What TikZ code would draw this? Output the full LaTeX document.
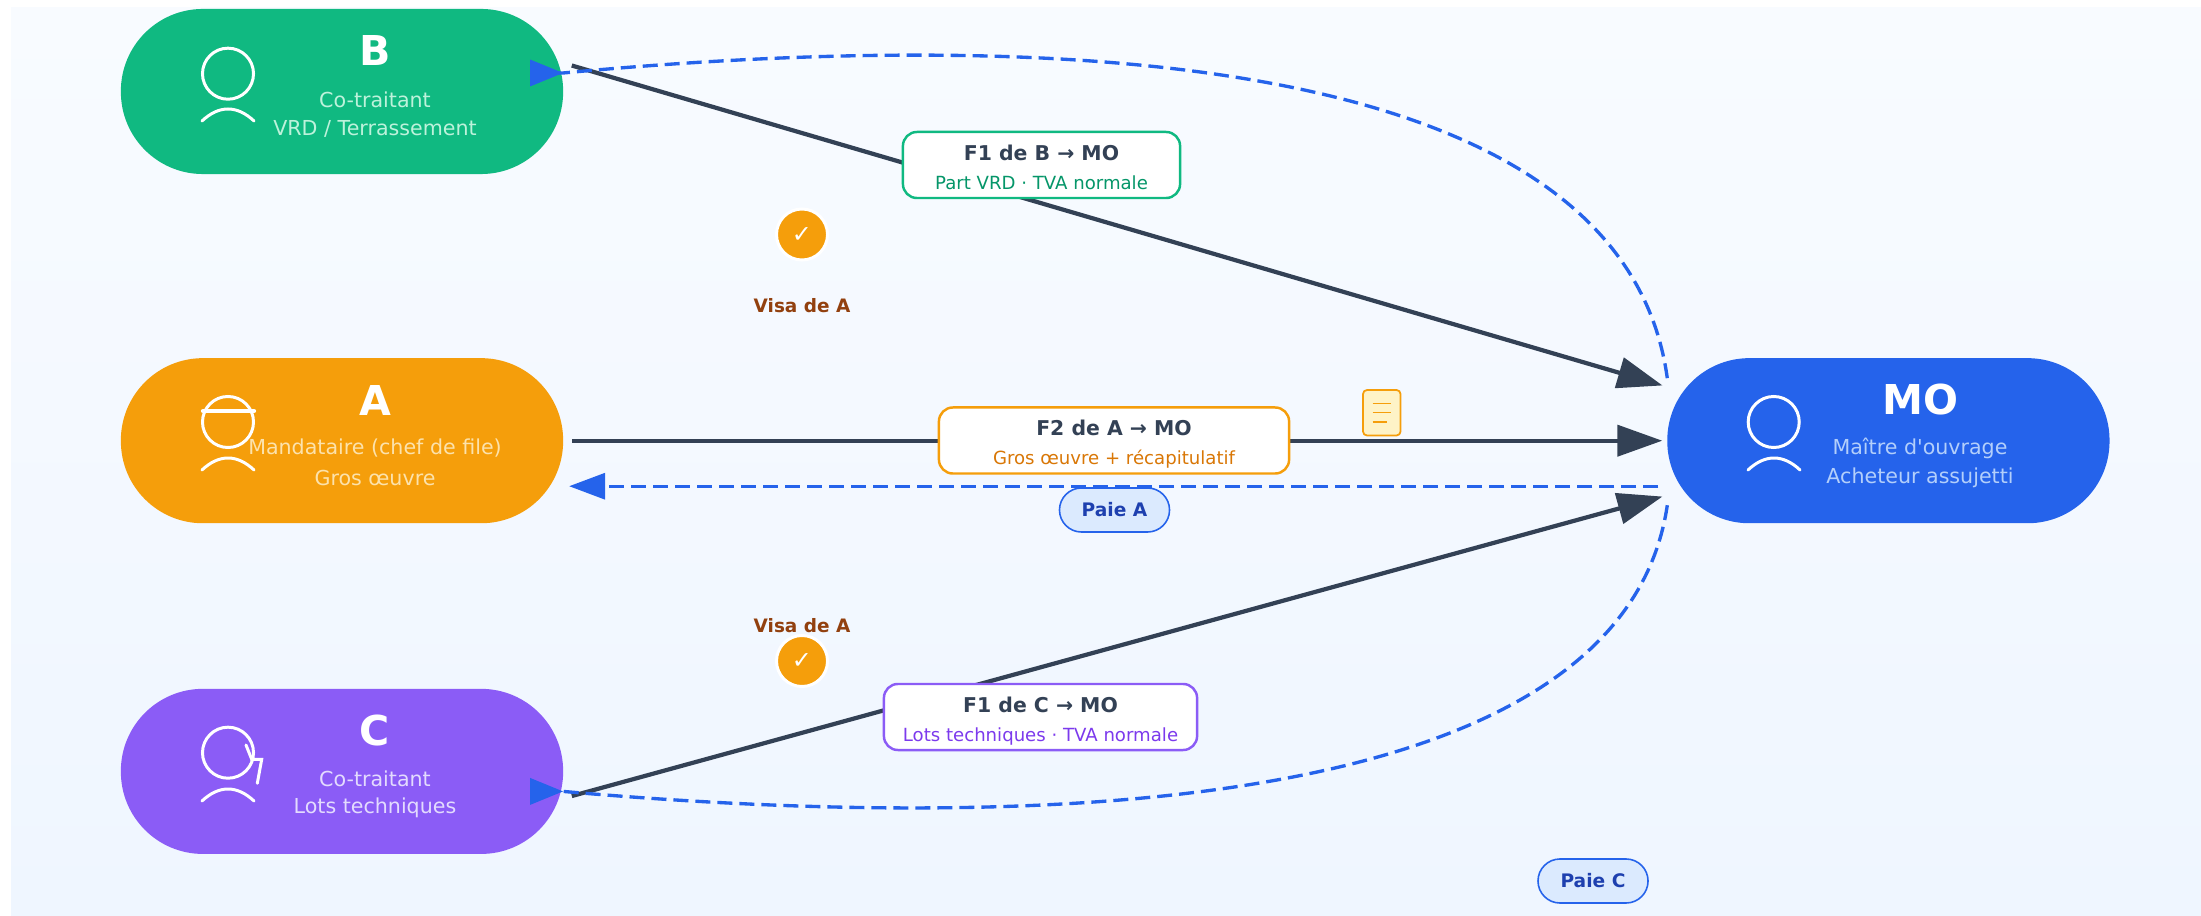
\documentclass[tikz,border=0pt]{standalone}
\usepackage{fontspec}
\setmainfont{DejaVu Sans}
\newfontfamily\straightfont{DejaVu Sans}
\usepackage{tikz}
\usetikzlibrary{arrows.meta}
\definecolor{slateline}{HTML}{334155}
\definecolor{payblue}{HTML}{2563EB}
\definecolor{greenB}{HTML}{10B981}
\definecolor{orangeA}{HTML}{F59E0B}
\definecolor{violetC}{HTML}{8B5CF6}
\definecolor{greenBtext}{HTML}{059669}
\definecolor{orangeAtext}{HTML}{D97706}
\definecolor{violetCtext}{HTML}{7C3AED}
\definecolor{greenBrole}{HTML}{BDF2DB}
\definecolor{orangeArole}{HTML}{FCE2AC}
\definecolor{violetCrole}{HTML}{E3DBFE}
\definecolor{blueMOrole}{HTML}{B3CFFB}
\definecolor{payfill}{HTML}{DBEAFE}
\definecolor{paytext}{HTML}{1E40AF}
\definecolor{visatext}{HTML}{92400E}
\definecolor{sheetfill}{HTML}{FEF3C7}
\definecolor{bgtop}{HTML}{F8FBFF}
\definecolor{bgbottom}{HTML}{EFF6FF}
\newcommand{\billhead}[1]{{\rule{0pt}{6.7pt}\fontsize{5.8}{8.2}\selectfont\bfseries #1}}
\newcommand{\billsub}[2]{\rule[-1.2pt]{0pt}{1pt}\textcolor{#1}{#2}}
\begin{document}
\begin{tikzpicture}[x=0.01cm,y=-0.01cm,node distance=3.49cm,
			party node/.style={rectangle,rounded corners=0.82cm,minimum width=4.42cm,
				minimum height=1.65cm,inner sep=0pt,outer sep=0pt},
			title label/.style={white,font=\fontsize{11.7}{14}\selectfont\bfseries,inner sep=0pt},
			role label/.style={font=\fontsize{5.86}{7}\selectfont,inner sep=0pt},
			bill node/.style={rectangle,rounded corners=0.14cm,fill=white,line width=0.7pt,align=center,
				minimum height=0.66cm,inner sep=0pt,text=slateline,font=\fontsize{5.15}{8.2}\selectfont},
			pay node/.style={rectangle,rounded corners=0.22cm,fill=payfill,draw=payblue,line width=0.45pt,
				minimum height=0.44cm,minimum width=1.1cm,inner sep=0pt,text=paytext,
				font=\fontsize{5.3}{7}\selectfont\bfseries},
			visa node/.style={circle,fill=orangeA,draw=white,line width=0.85pt,minimum size=0.51cm,
				inner sep=0pt,text=white,font=\fontsize{6.8}{8}\selectfont},
			visa label/.style={text=visatext,font=\fontsize{5.25}{7}\selectfont\bfseries,inner sep=0pt},
			invoice/.style={slateline,line width=1.2pt,-{Triangle[length=0.45cm,width=0.31cm]}},
			payment/.style={payblue,line width=0.95pt,dash pattern=on 0.15cm off 0.07cm},
			icon line/.style={white,line width=0.85pt,line cap=round}]
			
			\useasboundingbox (0,0) rectangle (2201,916);
			\shade[top color=bgtop,bottom color=bgbottom] (11,8) rectangle (2201,916);
			
			\node[party node,fill=greenB] (B) at (342,91.5) {};
			\node[party node,fill=orangeA] (A) [below of=B] {};
			\node[party node,fill=violetC] (C) [below of=A,node distance=3.305cm] {};
			\node[party node,fill=payblue] (MO) [right of=A,node distance=15.455cm] {};
			
			\node[title label] (Btitle) at (375,51) {B};
			\node[role label,text=greenBrole] (Brole) at (375,100) {Co-traitant};
			\node[role label,text=greenBrole] (Bwork) at (375,129) {VRD / Terrassement};
			\node[title label] (Atitle) at (375,401) {A};
			\node[role label,text=orangeArole] (Arole) at (375,448) {Mandataire (chef de file)};
			\node[role label,text=orangeArole] (Awork) at (375,478) {Gros œuvre};
			\node[title label] (Ctitle) at (375,731) {C};
			\node[role label,text=violetCrole] (Crole) at (375,779) {Co-traitant};
			\node[role label,text=violetCrole] (Cwork) at (375,808) {Lots techniques};
			\node[title label] (MOtitle) at (1920,400) {MO};
			\node[role label,text=blueMOrole] (MOrole) at (1920,448) {Maître d{\straightfont'}ouvrage};
			\node[role label,text=blueMOrole] (MOwork) at (1920,478) {Acheteur assujetti};
			
			% icons
			\draw[icon line] (228,73.7) circle (0.255cm);
			\draw[icon line] (202,121) .. controls (219,105) and (237,105) .. (254,121);
			\draw[icon line] (228,422) circle (0.255cm);
			\draw[icon line] (202,470) .. controls (219,454) and (237,454) .. (254,470);
			\draw[icon line,line width=1.2pt] (203,411) -- (254,411);
			\draw[icon line] (228,752.7) circle (0.255cm);
			\draw[icon line] (202,801) .. controls (219,785) and (237,785) .. (254,801);
			\draw[icon line] (246,745) -- (251.7,759.3) -- (261.7,759.3) -- (257.3,783.3);
			\draw[icon line] (1773.7,422) circle (0.255cm);
			\draw[icon line] (1748,470) .. controls (1765,454) and (1783,454) .. (1800,470);
			
			\path[invoice,shorten <=0.09cm,shorten >=0.05cm]
			([yshift=0.285cm]B.east) edge ([yshift=0.538cm]MO.west)
			(A.east) edge (MO.west)
			([yshift=-0.27cm]C.east) edge ([yshift=-0.545cm]MO.west);
			
			\draw[payment,-{Triangle[length=0.36cm,width=0.26cm]},shorten <=0.09cm,shorten >=0.06cm]
			([yshift=-0.455cm]MO.west) -- ([yshift=-0.455cm]A.east);
			\draw[payment,-{Triangle[reversed,length=0.33cm,width=0.26cm]}]
			([yshift=0.625cm]MO.west) .. controls (1620,35) and (1000,32) .. ([yshift=0.185cm]B.east) -- ++(-33,0);
			\draw[payment,-{Triangle[reversed,length=0.33cm,width=0.26cm]}]
			([yshift=-0.645cm]MO.west) .. controls (1620,825) and (1000,830) .. ([yshift=-0.2cm]C.east) -- ++(-33,0);
			
			\node[bill node,draw=greenB,minimum width=2.77cm] (FB) at (1041.5,165)
			{\billhead{F1 de B → MO}\\\billsub{greenBtext}{Part VRD · TVA normale}};
			\node[bill node,draw=orangeA,minimum width=3.5cm] (FA) at (1114,440.5)
			{\billhead{F2 de A → MO}\\\billsub{orangeAtext}{Gros œuvre + récapitulatif}};
			\node[bill node,draw=violetC,minimum width=3.13cm] (FC) at (1040.5,717)
			{\billhead{F1 de C → MO}\\\billsub{violetCtext}{Lots techniques · TVA normale}};
			
			\node[pay node] (PA) at (1114.5,510) {Paie A};
			\node[pay node] (PC) at (1593,881) {Paie C};
			
			\node[visa node] (VB) at (802,234.5) {✓};
			\node[visa label] (VBtext) at (802,306) {Visa de A};
			\node[visa node] (VC) at (802,661) {✓};
			\node[visa label] (VCtext) at (802,626) {Visa de A};
			
			% invoice sheet
			\draw[rounded corners=0.04cm,fill=sheetfill,draw=orangeA,line width=0.5pt] (1363,390) rectangle (1400.5,435.5);
			\draw[orangeA,line width=0.45pt] (1372.7,403.3) -- (1391,403.3) (1372.7,412.7) -- (1391,412.7) (1372.7,422) -- (1387,422);
			
		\end{tikzpicture}
\end{document}
